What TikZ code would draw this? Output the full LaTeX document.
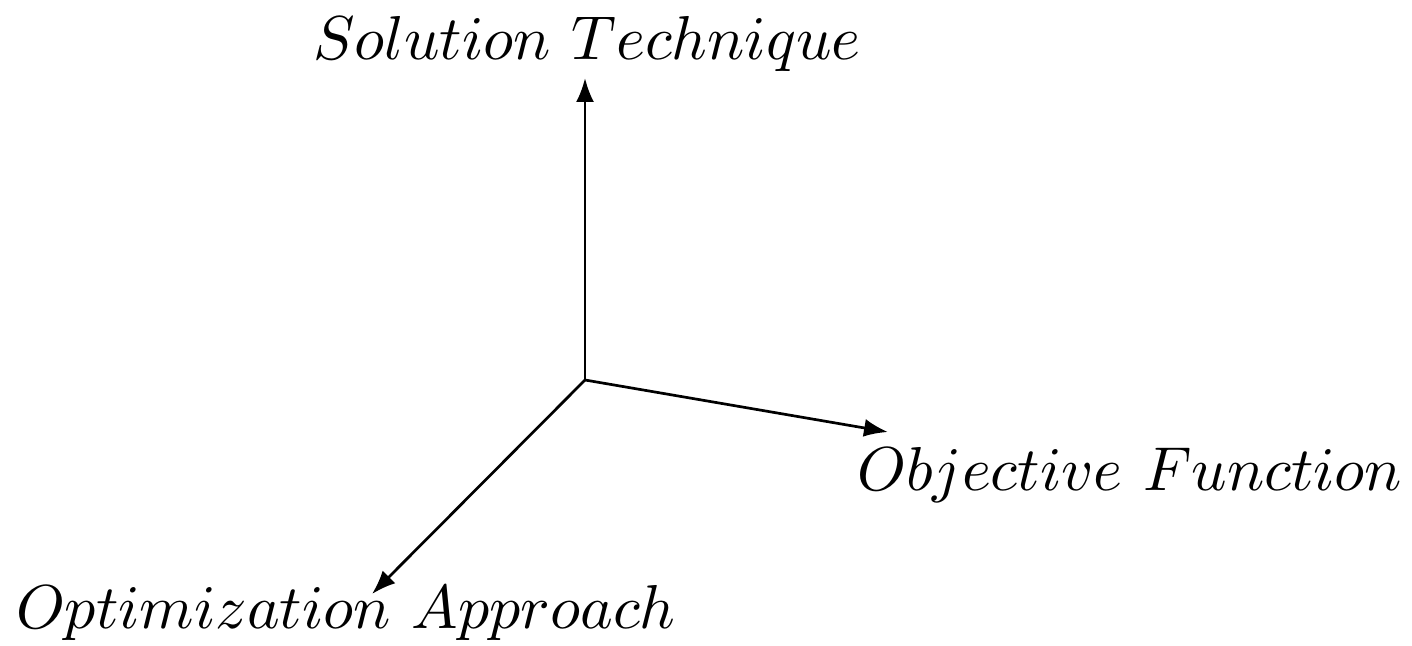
\documentclass[tikz,border=0pt]{standalone}
\usetikzlibrary{arrows.meta}
\newcommand{\axlabel}[1]{\scalebox{1.034}{$#1$}}
\begin{document}
\begin{tikzpicture}[x=0.1667pt,y=-0.1667pt,
  axis/.style={line width=0.45pt,-{Latex[length=4pt,width=3pt]}},
  lab/.style={inner sep=0pt,anchor=base}]
\useasboundingbox (0,0) rectangle (1412,645);
\coordinate (O) at (585,380);
\coordinate (U) at (585,78);
\coordinate (R) at (888,432);
\coordinate (L) at (372,594);
\node[lab] (st) at (587,60) {\axlabel{Solution\ Technique}};
\node[lab] (of) at (1130,490) {\axlabel{Objective\ Function}};
\node[lab] (oa) at (346,628) {\axlabel{Optimization\ Approach}};
\draw[axis] (O) -- (U);
\draw[axis] (O) -- (R);
\draw[axis] (O) -- (L);
\end{tikzpicture}
\end{document}
